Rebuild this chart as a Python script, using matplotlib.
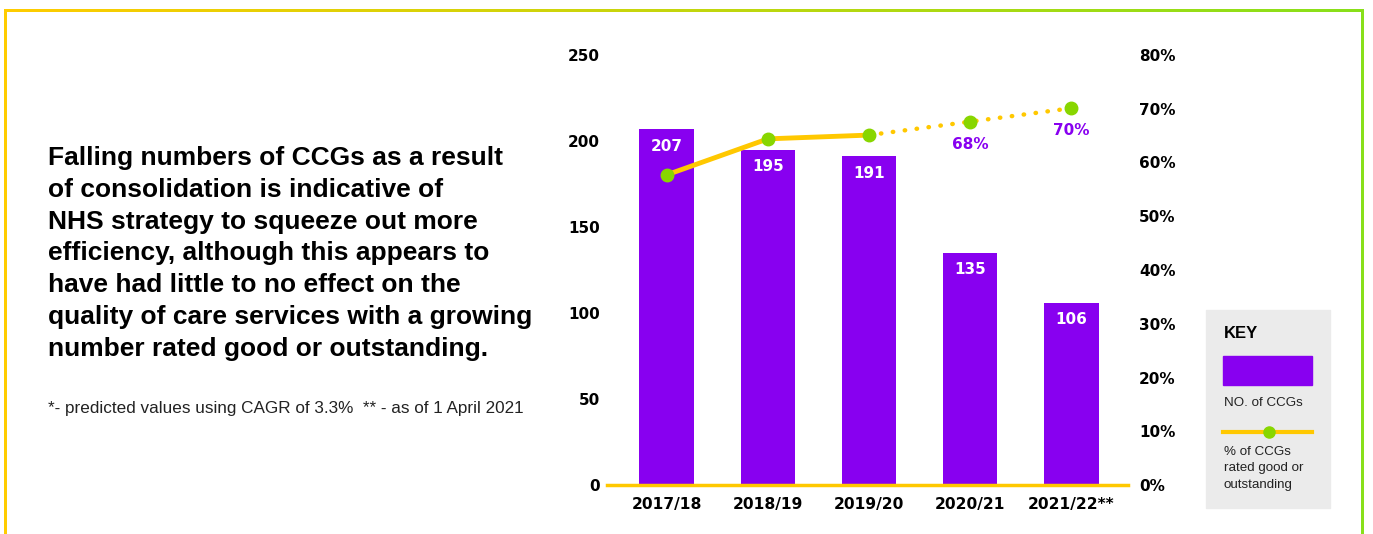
import matplotlib.pyplot as plt
import numpy as np
from matplotlib.colors import to_rgb

# data
years = ["2017/18", "2018/19", "2019/20", "2020/21", "2021/22**"]
ccg_counts = [207, 195, 191, 135, 106]
pct_good = [57.7, 64.4, 65.1, 67.6, 70.1]
n_actual = 3  # first three points are actual, rest predicted
left_ticks = [0, 50, 100, 150, 200, 250]
right_ticks = [0, 10, 20, 30, 40, 50, 60, 70, 80]

title_text = ("Falling numbers of CCGs as a result\n"
              "of consolidation is indicative of\n"
              "NHS strategy to squeeze out more\n"
              "efficiency, although this appears to\n"
              "have had little to no effect on the\n"
              "quality of care services with a growing\n"
              "number rated good or outstanding.")
note_text = "*- predicted values using CAGR of 3.3%  ** - as of 1 April 2021"

PURPLE = "#8800F0"
YELLOW = "#FFC800"
GREEN = "#88D600"
TICK_FONT = "DejaVu Sans"
TEXT_FONT = "Liberation Sans"

W, H = 1373, 534
fig = plt.figure(figsize=(W / 100, H / 100), dpi=100)
fig.patch.set_facecolor("white")

# background layer for frame, text and key (pixel coordinates)
bg = fig.add_axes([0, 0, 1, 1])
bg.axis("off")

# gradient frame: yellow left -> green right
c1, c2 = np.array(to_rgb("#FFCC00")), np.array(to_rgb("#88E01A"))
t = np.linspace(0, 1, 400)[None, :, None]
grad = c1[None, None, :] + (c2 - c1)[None, None, :] * t
bg.imshow(grad, extent=(4, 1364, 12, 9), aspect="auto", interpolation="bilinear",
          zorder=5)
bg.set_xlim(0, W)
bg.set_ylim(H, 0)
bg.add_patch(plt.Rectangle((4, 9), 3, H, color=c1, lw=0, zorder=5))
bg.add_patch(plt.Rectangle((1361, 9), 3, H, color=c2, lw=0, zorder=5))

bg.text(48, 146, title_text, fontsize=19, fontweight="bold", family=TEXT_FONT,
        va="top", ha="left", linespacing=1.41, color="black")
bg.text(48, 408, note_text, fontsize=12.3, family=TEXT_FONT, va="center",
        ha="left", color="#222222")

# key box
bg.add_patch(plt.Rectangle((1206, 310), 124, 198, color="#EBEBEB", zorder=1))
bg.text(1224, 334, "KEY", fontsize=12, fontweight="bold", family=TEXT_FONT,
        va="center", ha="left", zorder=2)
bg.add_patch(plt.Rectangle((1223, 356), 89, 29, color=PURPLE, zorder=2))
bg.text(1224, 403, "NO. of CCGs", fontsize=9.6, family=TEXT_FONT,
        va="center", ha="left", color="#222222", zorder=2)
bg.plot([1223, 1312], [432, 432], color=YELLOW, lw=3, zorder=2)
bg.plot([1269], [432], "o", color=GREEN, ms=8, zorder=3)
bg.text(1224, 446, "% of CCGs\nrated good or\noutstanding", fontsize=9.6,
        family=TEXT_FONT, va="top", ha="left", color="#222222",
        linespacing=1.5, zorder=2)

# main chart
ax = fig.add_axes([607 / W, (H - 485) / H, 521 / W, 430 / H])
ax.patch.set_alpha(0)
x = np.arange(len(years))
bars = ax.bar(x, ccg_counts, width=0.54, color=PURPLE, zorder=2)
ax.set_xlim(-0.59, 4.56)
ax.set_ylim(0, 250)
ax.set_yticks(left_ticks)
ax.set_xticks(x)
ax.set_xticklabels(years)
for s in ["top", "left", "right"]:
    ax.spines[s].set_visible(False)
ax.spines["bottom"].set_color(YELLOW)
ax.spines["bottom"].set_linewidth(2.5)
ax.spines["bottom"].set_zorder(3)
ax.tick_params(axis="y", length=0, pad=5, labelsize=11)
ax.tick_params(axis="x", length=0, pad=9, labelsize=11.2)
for lab in ax.get_xticklabels() + ax.get_yticklabels():
    lab.set_fontweight("bold")
    lab.set_family(TICK_FONT)

for xi, v in zip(x, ccg_counts):
    ax.text(xi, v - 10, str(v), color="white", fontsize=11, fontweight="bold",
            family=TICK_FONT, ha="center", va="center", zorder=4)

ax2 = ax.twinx()
ax2.set_ylim(0, 80)
ax2.set_yticks(right_ticks)
ax2.set_yticklabels([f"{t}%" for t in right_ticks])
for s in ["top", "left", "right", "bottom"]:
    ax2.spines[s].set_visible(False)
ax2.tick_params(axis="y", length=0, pad=8, labelsize=11)
for lab in ax2.get_yticklabels():
    lab.set_fontweight("bold")
    lab.set_family(TICK_FONT)

ax2.plot(x[:n_actual], pct_good[:n_actual], color=YELLOW, lw=3.5,
         solid_capstyle="round", zorder=3)
ax2.plot(x[n_actual - 1:], pct_good[n_actual - 1:], color=YELLOW, lw=3.2,
         linestyle=(0, (0.1, 2.6)), dash_capstyle="round", zorder=3)
ax2.plot(x, pct_good, "o", color=GREEN, ms=9, zorder=4)
for xi, v in zip(x[n_actual:], pct_good[n_actual:]):
    ax2.text(xi, v - 4.2, f"{round(v)}%", color=PURPLE, fontsize=11,
             fontweight="bold", family=TICK_FONT, ha="center", va="center")

fig.savefig("out.png", dpi=100, facecolor="white")
